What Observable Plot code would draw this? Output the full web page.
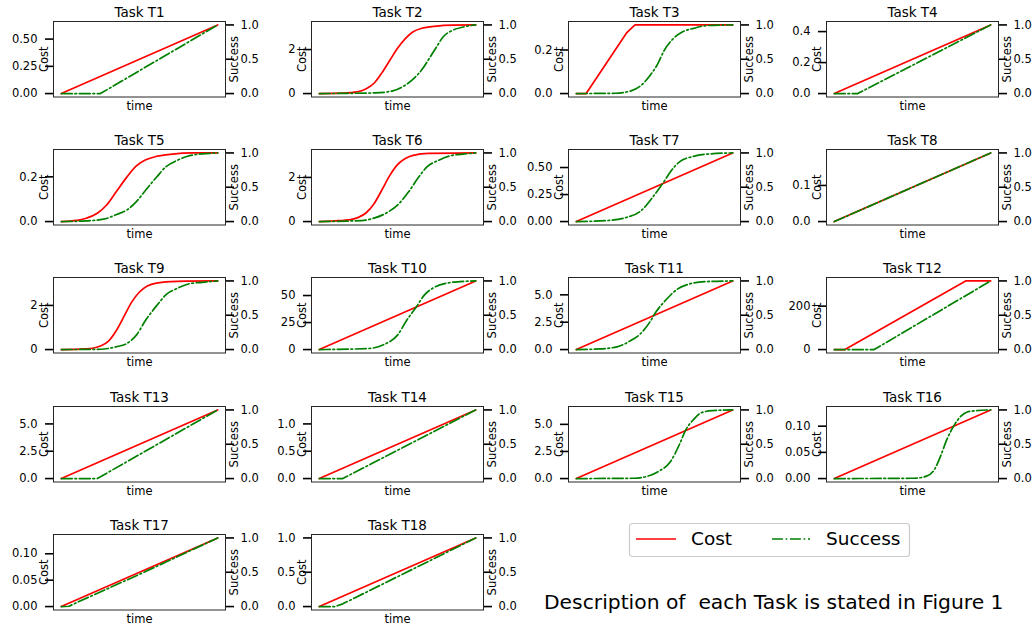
<!DOCTYPE html>
<html><head><meta charset="utf-8">
<script src="https://cdn.jsdelivr.net/npm/d3@7"></script>
<script src="https://cdn.jsdelivr.net/npm/@observablehq/plot@0.6"></script>
<style>
body{margin:0;background:#fff;}
#root{position:relative;width:1035px;height:625px;overflow:hidden;font-family:"DejaVu Sans",sans-serif;background:#fff;}
#root svg{overflow:visible;}
#caption{position:absolute;left:544px;top:590px;font-size:20.3px;line-height:24px;white-space:pre;color:#000;}
</style></head><body><div id="root"></div>
<script>
const taskNames = ["T1","T2","T3","T4","T5","T6","T7","T8","T9","T10","T11","T12","T13","T14","T15","T16","T17","T18"];

const costTickLabels = [
  ["0.00","0.25","0.50"], ["0","2"], ["0.0","0.2"], ["0.0","0.2","0.4"],
  ["0.0","0.2"], ["0","2"], ["0.00","0.25","0.50"], ["0.0","0.1"],
  ["0","2"], ["0","25","50"], ["0.0","2.5","5.0"], ["0","200"],
  ["0.0","2.5","5.0"], ["0.0","0.5","1.0"], ["0.0","2.5","5.0"], ["0.00","0.05","0.10"],
  ["0.00","0.05","0.10"], ["0.0","0.5","1.0"]
];
const successTickLabels = ["0.0","0.5","1.0"];

// [time, cost] points
const costPoints = [
  [[0,0],[1,0.63]],
  [[0,0],[0.15,0.016],[0.25,0.09],[0.3,0.22],[0.35,0.47],[0.4,0.94],[0.45,1.5],[0.5,2.06],[0.55,2.5],[0.6,2.81],[0.65,2.96],[0.75,3.07],[0.85,3.11],[1,3.12]],
  [[0,0],[0.063,0],[0.32,0.277],[0.375,0.315],[1,0.315]],
  [[0,0],[1,0.443]],
  [[0,0],[0.1,0.005],[0.16,0.015],[0.23,0.037],[0.29,0.074],[0.35,0.132],[0.42,0.2],[0.48,0.249],[0.54,0.276],[0.61,0.292],[0.71,0.302],[0.84,0.307],[1,0.307]],
  [[0,0],[0.1,0.03],[0.2,0.09],[0.25,0.19],[0.3,0.4],[0.35,0.81],[0.4,1.43],[0.45,2.08],[0.5,2.58],[0.55,2.86],[0.6,3.0],[0.7,3.09],[1,3.11]],
  [[0,0],[1,0.635]],
  [[0,0],[1,0.19]],
  [[0,0],[0.15,0.03],[0.2,0.06],[0.25,0.16],[0.3,0.37],[0.35,0.84],[0.4,1.49],[0.45,2.15],[0.5,2.61],[0.55,2.88],[0.6,3.0],[0.7,3.08],[0.8,3.1],[1,3.11]],
  [[0,0],[1,63.5]],
  [[0,0],[1,6.27]],
  [[0,0],[0.068,0],[0.84,316],[1,316]],
  [[0,0],[1,6.28]],
  [[0,0],[1,1.256]],
  [[0,0],[1,6.33]],
  [[0,0],[1,0.131]],
  [[0,0],[1,0.13]],
  [[0,0],[1,1.0]]
];

// [time, success] points
const successPoints = [
  [[0,0],[0.25,0],[1,1]],
  [[0,0],[0.36,0.01],[0.47,0.04],[0.54,0.11],[0.6,0.21],[0.66,0.36],[0.7,0.5],[0.75,0.68],[0.79,0.82],[0.85,0.92],[0.92,0.97],[1,1]],
  [[0,0],[0.25,0.005],[0.35,0.04],[0.41,0.11],[0.47,0.26],[0.52,0.43],[0.56,0.62],[0.62,0.8],[0.68,0.9],[0.75,0.95],[0.83,0.99],[1,1]],
  [[0,0],[0.15,0],[1,1]],
  [[0,0],[0.16,0.01],[0.27,0.035],[0.35,0.1],[0.42,0.17],[0.48,0.29],[0.54,0.46],[0.61,0.65],[0.67,0.8],[0.74,0.89],[0.82,0.96],[0.9,0.985],[1,1]],
  [[0,0],[0.27,0.015],[0.35,0.05],[0.44,0.14],[0.5,0.24],[0.57,0.43],[0.63,0.63],[0.69,0.8],[0.76,0.89],[0.84,0.96],[0.93,0.985],[1,1]],
  [[0,0],[0.2,0.015],[0.32,0.06],[0.41,0.15],[0.49,0.36],[0.56,0.58],[0.6,0.72],[0.66,0.87],[0.75,0.95],[0.85,0.985],[1,1]],
  [[0,0],[1,1]],
  [[0,0],[0.25,0.005],[0.35,0.04],[0.42,0.09],[0.48,0.21],[0.54,0.43],[0.61,0.64],[0.67,0.8],[0.74,0.89],[0.82,0.96],[0.9,0.98],[1,1]],
  [[0,0],[0.31,0.015],[0.41,0.07],[0.5,0.21],[0.56,0.43],[0.62,0.62],[0.67,0.79],[0.73,0.9],[0.82,0.97],[0.9,0.99],[1,1]],
  [[0,0],[0.15,0.01],[0.26,0.04],[0.34,0.12],[0.41,0.23],[0.47,0.4],[0.51,0.55],[0.58,0.74],[0.64,0.87],[0.73,0.96],[0.83,0.99],[1,1]],
  [[0,0],[0.255,0],[1,1]],
  [[0,0],[0.23,0],[1,1]],
  [[0,0],[0.15,0],[1,1]],
  [[0,0],[0.37,0.005],[0.47,0.045],[0.53,0.11],[0.6,0.24],[0.66,0.5],[0.7,0.71],[0.75,0.86],[0.8,0.96],[0.87,0.99],[1,1]],
  [[0,0],[0.51,0.005],[0.59,0.035],[0.64,0.13],[0.68,0.33],[0.72,0.57],[0.77,0.79],[0.81,0.91],[0.85,0.97],[0.91,0.99],[1,1]],
  [[0,0],[0.05,0.005],[0.1,0.06],[0.5,0.47],[1,1]],
  [[0,0],[0.1,0],[0.15,0.04],[1,1]]
];

const root = document.getElementById("root");
const FONT = "DejaVu Sans";
const dash = "10.9,2.7,1.7,2.7";

taskNames.forEach((name, i) => {
  const row = Math.floor(i / 4), col = i % 4;
  const cost = costPoints[i].map(([t, v]) => ({t, v}));
  const cmax = d3.max(cost, d => d.v);
  const succ = successPoints[i].map(([t, v]) => ({t, v: v * cmax}));
  const cTicks = costTickLabels[i].map(Number);
  const cLabel = new Map(cTicks.map((v, k) => [v, costTickLabels[i][k]]));
  const sTicks = successTickLabels.map(s => Number(s) * cmax);
  const sLabel = new Map(sTicks.map((v, k) => [v, successTickLabels[k]]));
  const chart = Plot.plot({
    width: 257, height: 128,
    marginLeft: 53, marginRight: 32, marginTop: 21, marginBottom: 31.5,
    x: {domain: [-0.05, 1.05], axis: null},
    y: {domain: [-0.05 * cmax, 1.05 * cmax], axis: null},
    style: {fontFamily: FONT, fontSize: "11.5px", overflow: "visible", background: "transparent", color: "#000"},
    marks: [
      Plot.line(cost, {x: "t", y: "v", stroke: "#ff0000", strokeWidth: 1.7, curve: cost.length > 5 ? "monotone-x" : "linear"}),
      Plot.line(succ, {x: "t", y: "v", stroke: "#008000", strokeWidth: 1.7, strokeDasharray: dash, curve: succ.length > 5 ? "monotone-x" : "linear"}),
      Plot.frame({stroke: "#262626", strokeWidth: 1}),
      Plot.axisY(cTicks, {anchor: "left", tickSize: 8, tickPadding: 8, strokeWidth: 1.6, stroke: "#000", tickFormat: d => cLabel.get(d), label: null}),
      Plot.axisY(sTicks, {anchor: "right", tickSize: 8, tickPadding: 7, strokeWidth: 1.6, stroke: "#000", tickFormat: d => sLabel.get(d), label: null}),
      Plot.text(["Cost"], {frameAnchor: "left", dx: -9.5, rotate: -90, textAnchor: "middle", lineAnchor: "middle", text: d => d, fontSize: 11.5, fill: "#000"}),
      Plot.text(["Success"], {frameAnchor: "right", dx: 9, rotate: -90, textAnchor: "middle", lineAnchor: "middle", text: d => d, fontSize: 11.5, fill: "#000"}),
      Plot.text(["time"], {frameAnchor: "bottom", dy: 9, textAnchor: "middle", lineAnchor: "middle", text: d => d, fontSize: 11.5, fill: "#000"}),
      Plot.text([`Task ${name}`], {frameAnchor: "top", dy: -8.5, textAnchor: "middle", lineAnchor: "middle", text: d => d, fontSize: 13.5, fill: "#000"})
    ]
  });
  chart.style.position = "absolute";
  chart.style.left = (257.6 * col) + "px";
  chart.style.top = (128.3 * row - 0.3) + "px";
  root.appendChild(chart);
});

// legend
const ns = "http://www.w3.org/2000/svg";
const leg = document.createElementNS(ns, "svg");
leg.setAttribute("width", 283); leg.setAttribute("height", 36);
leg.style.position = "absolute"; leg.style.left = "628px"; leg.style.top = "522px";
leg.innerHTML = `
<rect x="1.5" y="1.5" width="280" height="33" rx="3" fill="#fff" stroke="#cccccc" stroke-width="1.2"/>
<line x1="8" x2="48" y1="17" y2="17" stroke="#ff0000" stroke-width="1.7"/>
<text x="63" y="17" dy="0.35em" font-family="${FONT}" font-size="18.5">Cost</text>
<line x1="144" x2="182" y1="17" y2="17" stroke="#008000" stroke-width="1.7" stroke-dasharray="${dash}"/>
<text x="198" y="17" dy="0.35em" font-family="${FONT}" font-size="18.5">Success</text>`;
root.appendChild(leg);

const cap = document.createElement("div");
cap.id = "caption";
cap.textContent = "Description of  each Task is stated in Figure 1";
root.appendChild(cap);
</script>
</body></html>
